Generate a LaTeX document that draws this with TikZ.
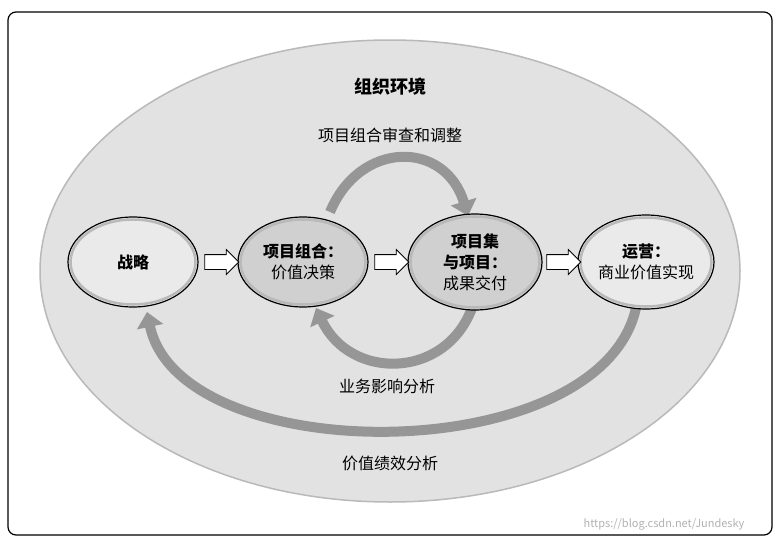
\documentclass[tikz,border=0pt]{standalone}
\usepackage{fontspec}
\setmainfont{Noto Sans CJK SC}
\usetikzlibrary{shapes.arrows,arrows.meta,calc,shapes.geometric}
\definecolor{bgell}{RGB}{226,226,226}
\definecolor{ring}{RGB}{185,185,185}
\definecolor{litefill}{RGB}{234,234,234}
\definecolor{darkfill}{RGB}{208,208,208}
\definecolor{arcgray}{RGB}{150,150,150}
\tikzset{
 stage/.style={ellipse,draw=black,line width=1.2pt,minimum width=130pt,minimum height=90pt,align=center,font=\fontsize{16}{21}\selectfont,inner sep=0pt},
 hollow/.style={single arrow,draw=black,fill=white,line width=0.8pt,minimum height=34pt,inner xsep=0pt,inner ysep=7pt,single arrow head extend=5pt},
 cyc/.style={draw=arcgray,line width=10pt,-{Triangle[width=26pt,length=15pt]}},
 lbl/.style={font=\fontsize{16}{19}\selectfont},
 inring/.style={draw=ring,line width=2.5pt}
}
\begin{document}
\begin{tikzpicture}[x=1pt,y=-1pt]
\useasboundingbox (0,0) rectangle (780,544);
\draw[fill=white,line width=1.2pt,rounded corners=8pt] (8,12) rectangle (772,535);
\draw[fill=bgell,draw=ring,line width=1.5pt] (390,271) ellipse [x radius=350,y radius=231];
\node[lbl,font=\fontsize{18}{21}\selectfont\bfseries] (env) at (390,87) {组织环境};
\node[lbl] (l1) at (390,135) {项目组合审查和调整};
\node[lbl] (l2) at (387,386) {业务影响分析};
\node[lbl] (l3) at (390,463) {价值绩效分析};
\node[font=\fontsize{11}{13}\selectfont,text=black!30] (wm) at (664,524) {https://blog.csdn.net/Jundesky};
\draw[cyc] (330,212) .. controls (360,140) and (445,140) .. (468,216);
\draw[cyc] (472,308) .. controls (445,380) and (350,380) .. (316,308);
\draw[cyc] (636,308) .. controls (600,470) and (180,470) .. (147,312);
\node[stage,fill=litefill] (s) at (133,262) {\bfseries 战略};
\node[stage,fill=darkfill] (p) at (303,262) {\bfseries 项目组合：\\价值决策};
\node[stage,fill=darkfill,minimum width=134pt,minimum height=96pt] (g) at (475,262) {\bfseries 项目集\\\bfseries 与项目：\\成果交付};
\node[stage,fill=litefill,minimum width=136pt,minimum height=94pt] (o) at (646,262) {\bfseries 运营：\\商业价值实现};
\draw[inring] (s.center) ellipse [x radius=62.5,y radius=42.5];
\draw[inring] (p.center) ellipse [x radius=62.5,y radius=42.5];
\draw[inring] (g.center) ellipse [x radius=64.5,y radius=45.5];
\draw[inring] (o.center) ellipse [x radius=65.5,y radius=44.5];
\node[hollow] (a1) at ($(s.east)!0.5!(p.west)$) {};
\node[hollow] (a2) at ($(p.east)!0.5!(g.west)$) {};
\node[hollow] (a3) at ($(g.east)!0.5!(o.west)$) {};
\end{tikzpicture}
\end{document}
